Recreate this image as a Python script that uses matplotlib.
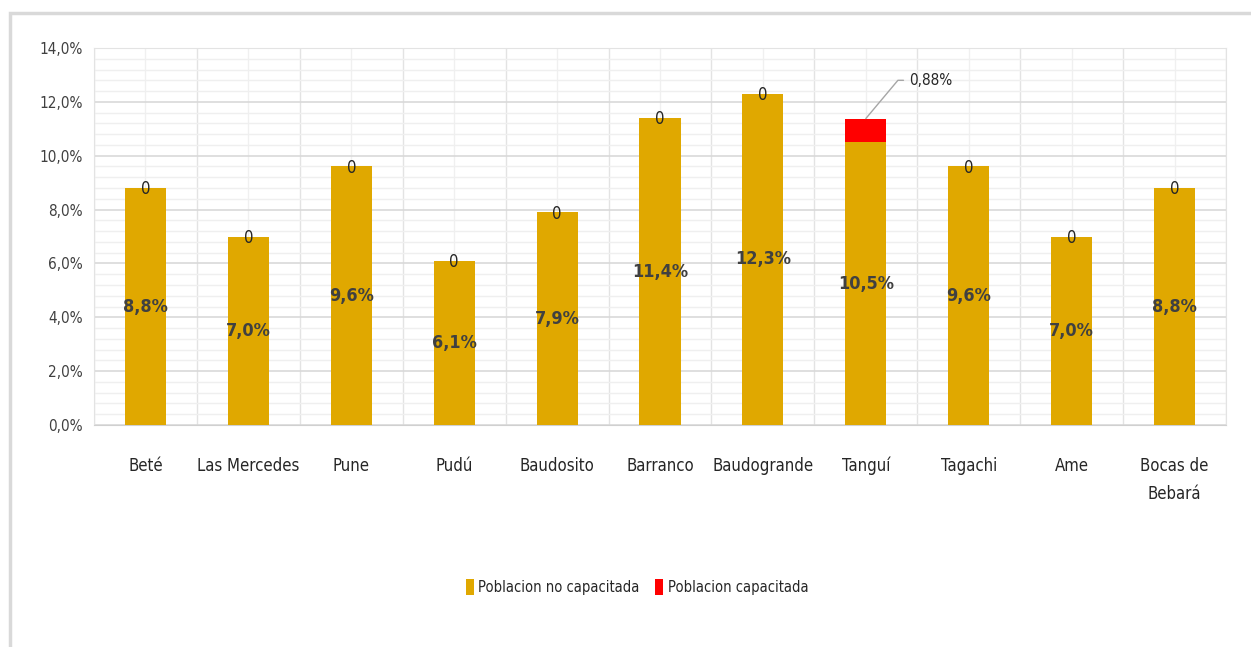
import matplotlib.pyplot as plt
import numpy as np
from matplotlib.patches import Rectangle
from matplotlib.ticker import MultipleLocator, FuncFormatter

plt.rcParams['font.family'] = ['DejaVu Sans']
plt.rcParams['font.stretch'] = 'condensed'

categories = ["Beté", "Las Mercedes", "Pune", "Pudú", "Baudosito", "Barranco",
              "Baudogrande", "Tanguí", "Tagachi", "Ame", "Bocas de\nBebará"]
no_capacitada = [8.8, 7.0, 9.6, 6.1, 7.9, 11.4, 12.3, 10.5, 9.6, 7.0, 8.8]
capacitada = [0, 0, 0, 0, 0, 0, 0, 0.88, 0, 0, 0]

GOLD = "#E0A800"
RED = "#FF0000"
TXT = "#404040"

fig = plt.figure(figsize=(12.51, 6.47), dpi=100)
ax = fig.add_axes([94/1251, 1-425/647, (1226-94)/1251, (425-48)/647])

# outer chart border
fig.patches.append(Rectangle((10/1251, -0.1), 1.2, 1-13/647+0.1, transform=fig.transFigure,
                             fill=False, edgecolor="#d9d9d9", lw=2.5))

x = np.arange(len(categories))
ax.bar(x, no_capacitada, width=0.4, color=GOLD, label="Poblacion no capacitada", zorder=3)
ax.bar(x, capacitada, width=0.4, bottom=no_capacitada, color=RED,
       label="Poblacion capacitada", zorder=3)

ax.set_xlim(-0.5, len(categories) - 0.5)
ax.set_ylim(0, 14)
ax.yaxis.set_major_locator(MultipleLocator(2))
ax.yaxis.set_minor_locator(MultipleLocator(0.4))
ax.yaxis.set_major_formatter(FuncFormatter(lambda v, p: f"{v:.1f}%".replace(".", ",")))
ax.set_xticks(x, categories)
ax.set_xticks(np.arange(-0.5, len(categories)), minor=True)
ax.tick_params(axis="x", which="both", length=0, pad=23, labelsize=12, colors=TXT)
ax.tick_params(axis="y", which="both", length=0, pad=8, labelsize=11, colors=TXT)
for lbl in ax.get_xticklabels():
    lbl.set_verticalalignment("top")
    lbl.set_linespacing(1.75)
    lbl.set_color("#262626")

ax.grid(which="major", axis="y", color="#d9d9d9", lw=1.2, zorder=0)
ax.grid(which="minor", axis="y", color="#efefef", lw=1, zorder=0)
ax.grid(which="minor", axis="x", color="#e3e3e3", lw=1, zorder=0)
ax.grid(which="major", axis="x", color="#f0f0f0", lw=1, zorder=0)
for s in ax.spines.values():
    s.set_color("#e3e3e3")
ax.spines["bottom"].set_color("#d0d0d0")

for xi, v, c in zip(x, no_capacitada, capacitada):
    ax.text(xi, v / 2, f"{v:.1f}%".replace(".", ","), ha="center", va="center",
            fontsize=13, fontweight="bold", color=TXT, zorder=4)
    if c == 0:
        ax.text(xi, v - 0.05, "0", ha="center", va="center", fontsize=12,
                color="#262626", zorder=4)
    else:
        top = v + c
        ax.annotate(f"{c:.2f}%".replace(".", ","), xy=(xi, top), xytext=(xi + 0.42, 12.8),
                    fontsize=11, color="#262626", va="center", ha="left", zorder=4,
                    arrowprops=dict(arrowstyle="-", color="#a6a6a6", lw=1,
                                    connectionstyle="angle,angleA=0,angleB=50,rad=0",
                                    shrinkA=2, shrinkB=0))

leg = fig.legend(loc="center", bbox_to_anchor=(637/1251, 1-587/647), ncol=2, frameon=False,
                 fontsize=10.5, handlelength=0.55, handleheight=1.3, handletextpad=0.3,
                 columnspacing=1.1)
for t in leg.get_texts():
    t.set_color("#262626")

fig.savefig("out.png", dpi=100)
